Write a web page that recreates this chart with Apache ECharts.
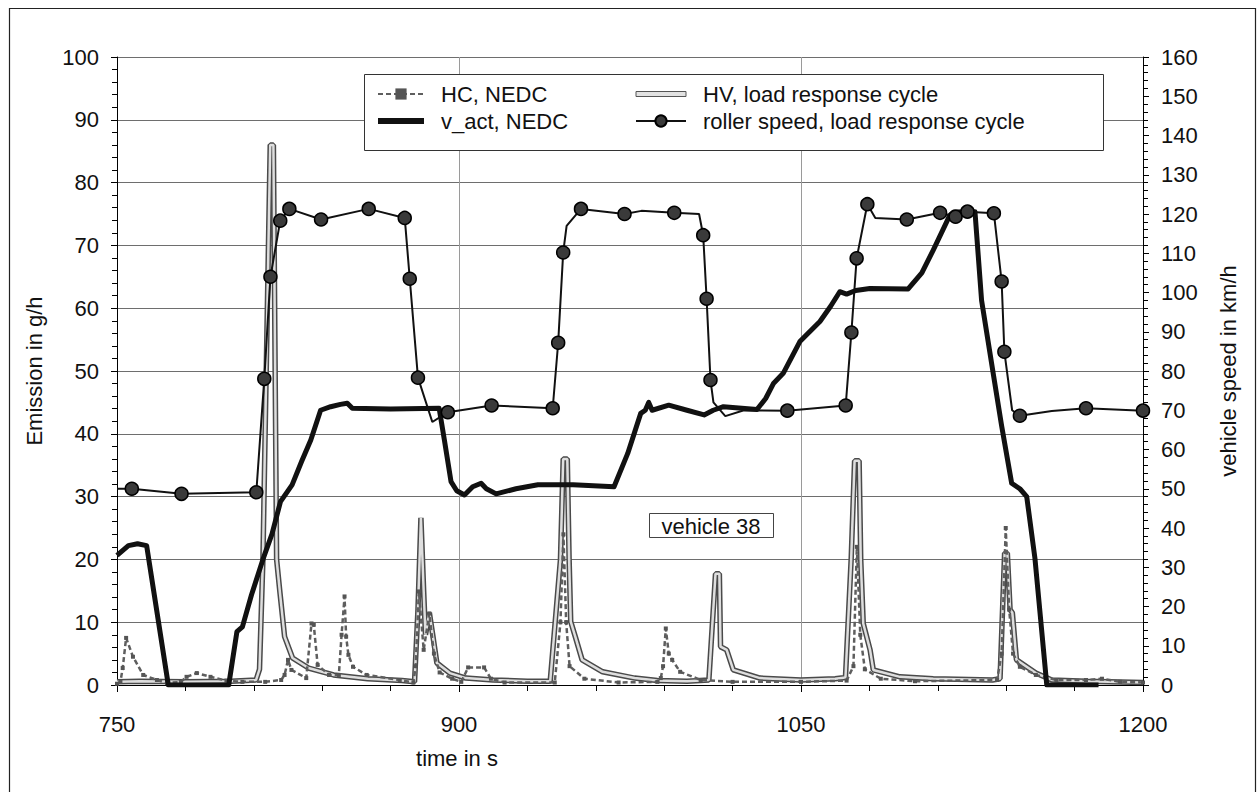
<!DOCTYPE html>
<html>
<head>
<meta charset="utf-8">
<script src="https://cdn.jsdelivr.net/npm/echarts@6/dist/echarts.min.js"></script>
<style>
html,body{margin:0;padding:0;background:#fff;}
#chart{width:1258px;height:792px;}
</style>
</head>
<body>
<div id="chart"></div>
<script>
// ---- data (time in s, value) ----
const hcNedc = [[750,0.2],[751.5,0.5],[752.5,2.7],[754,7.5],[757,4.5],[761.5,1.6],[767.5,0.8],[772,0.3],[778,0.5],[780.5,1.3],[785,1.9],[791,1.3],[798,0.7],[805,0.5],[815,0.5],[822,0.8],[823.5,1.6],[825,4],[826.5,2.4],[833,1.1],[835.3,9.8],[836.3,9.6],[838,3.2],[843,1.6],[847.3,1.6],[848.5,8],[849.8,14.1],[850.5,7.7],[851.5,4.8],[853.5,2.9],[859.5,1.6],[874,0.8],[880,0.4],[881,3],[882.4,14.9],[884.5,5.6],[887,11.4],[889,5],[891.5,2],[897,1],[901,0.5],[904,2.8],[911,2.8],[914,1],[920,0.4],[942,0.4],[944.5,10],[945.8,24],[947,10],[948.5,3],[955,1],[970,0.4],[987,0.5],[988.5,1.1],[989.5,3],[990.7,9],[992,5],[993.5,4],[997,2.1],[1006,0.8],[1020,0.5],[1050,0.5],[1070,0.7],[1073,3],[1074.5,22],[1076,8],[1078,2.5],[1085,1],[1100,0.6],[1136,0.8],[1138,5],[1139.8,25],[1141.3,12],[1143,5],[1146,2.9],[1153,1.6],[1162,0.8],[1175,0.8],[1182,1.0],[1190,0.5],[1200,0.4]];

const vActNedc = [[750,33],[755,35.5],[759,36],[763,35.5],[772.5,0],[799,0],[802.6,13.6],[805,14.8],[809,23],[814,32],[818,38.5],[821.7,46.7],[826.8,51],[831,57],[835,62.4],[839.3,70],[843.7,70.9],[848,71.5],[851,71.8],[853.2,70.5],[870,70.3],[891.3,70.5],[893.6,62.4],[896.5,51.8],[899,49.5],[902.4,48.4],[906,50.5],[909.7,51.4],[912,50],[916.3,48.7],[925,50],[934.6,51],[950,51],[968,50.5],[974,59],[979.7,69.2],[981.7,70],[983.2,72],[984.7,70],[992,71.3],[1000,70],[1007.5,68.8],[1011.5,70],[1016,70.9],[1030.7,70.2],[1034.5,73],[1038,76.9],[1042.2,79.4],[1049.5,87.5],[1058.3,92.6],[1063,96.5],[1067,100.2],[1070,99.6],[1074,100.5],[1080.2,101],[1097,100.9],[1103,105],[1108,110.8],[1115.3,119.7],[1117,120.5],[1126.3,120.6],[1129.2,98],[1134.3,79.4],[1138,66],[1142.4,51.4],[1146,50],[1149,48],[1152.6,32.3],[1157.8,0],[1180.5,0]];

const hvLoadResponse = [[750,0.5],[760,0.6],[780,0.5],[800,0.6],[811,0.8],[812.5,2.5],[814,20],[817.2,86],[818.6,86],[820,20],[821.5,14.6],[823.5,7.7],[827,4.3],[834,2.7],[845,1.6],[860,1],[875,0.7],[880.5,0.5],[882,12],[883.3,26.6],[884.5,15],[885.3,8],[887,11.5],[888.8,7.2],[890.3,3.5],[896,1.9],[903,1.1],[915,0.8],[930,0.6],[940,0.6],[944.5,20],[945.7,36],[947.5,36],[948.3,20],[949,10.1],[951,7.7],[954,4],[963,2.1],[977,1.1],[987,0.7],[1000,0.6],[1009.6,0.8],[1012.5,17.7],[1014.2,17.7],[1014.7,6.1],[1017.4,5.6],[1020.3,2.4],[1032,1.1],[1050,0.8],[1065,1],[1069.5,1.2],[1072,20],[1073.5,35.7],[1075.5,35.7],[1076.2,20],[1077.3,9.8],[1080.3,5.6],[1081.7,2.4],[1093.4,1.3],[1108,1.0],[1134,0.8],[1137.3,1],[1139.3,21],[1140.5,21],[1141.7,12],[1142.7,11.5],[1144.5,4],[1153,1.9],[1160,0.8],[1175,0.6],[1200,0.4]];

const rollerSpeed = [[750,50],[756.5,50],[778.3,48.7],[811.1,49.1],[814.6,78],[817.3,104],[821.6,118.3],[825.6,121.3],[839.5,118.6],[860.4,121.3],[876.2,119],[878.4,103.5],[882,78.3],[888.3,67],[895.1,69.5],[914.3,71.2],[941.1,70.5],[943.5,87.2],[945.7,110.2],[947.2,117],[953.5,121.3],[972.6,120],[980,120.8],[994.4,120.3],[1005.3,120],[1007.1,114.6],[1008.6,98.4],[1010.3,77.7],[1011.6,72],[1016.8,68.5],[1025,70],[1044,69.9],[1069.6,71.2],[1072.1,89.8],[1074.4,108.7],[1079.1,122.5],[1082.6,119],[1096.4,118.6],[1111,120.3],[1117.8,119.3],[1123,120.6],[1134.6,120.2],[1138,102.8],[1139.2,84.9],[1142.6,70],[1146,68.6],[1160,69.8],[1175,70.5],[1200,69.9]];
// times at which the roller-speed trace carries a marker
const rollerMarkers = [756.5,778.3,811.1,814.6,817.3,821.6,825.6,839.5,860.4,876.2,878.4,882,895.1,914.3,941.1,943.5,945.7,953.5,972.6,994.4,1007.1,1008.6,1010.3,1044,1069.6,1072.1,1074.4,1079.1,1096.4,1111,1117.8,1123,1134.6,1138,1139.2,1146,1175,1200];

const xTicks = [750, 900, 1050, 1200];

// ---- chart ----
const FONT = '"Liberation Sans", Arial, Helvetica, sans-serif';
const markerSet = new Set(rollerMarkers);
const rollerData = rollerSpeed.map(p => markerSet.has(p[0]) ? p : {value: p, symbol: 'none'});

const chart = echarts.init(document.getElementById('chart'), null, {renderer: 'svg'});
chart.setOption({
  animation: false,
  backgroundColor: '#fff',
  textStyle: {fontFamily: FONT, color: '#111'},
  grid: {left: 117, top: 57, width: 1026, height: 628, containLabel: false},
  xAxis: {
    type: 'value', min: xTicks[0], max: xTicks[xTicks.length-1], interval: xTicks[1]-xTicks[0],
    axisLine: {lineStyle: {color: '#000', width: 1}},
    axisTick: {show: true, length: 7, lineStyle: {color: '#000'}},
    minorTick: {show: true, splitNumber: 5, length: 6, lineStyle: {color: '#000'}},
    axisLabel: {fontSize: 22, color: '#111', fontFamily: FONT, margin: 28, formatter: v => String(v)},
    splitLine: {show: true, lineStyle: {color: '#9a9a9a', width: 1}}
  },
  yAxis: [
    {
      type: 'value', min: 0, max: 100, interval: 10, position: 'left',
      name: 'Emission in g/h', nameLocation: 'middle', nameRotate: 90, nameGap: 72,
      nameTextStyle: {fontSize: 22, color: '#111', fontFamily: FONT},
      axisLine: {show: true, lineStyle: {color: '#000'}},
      axisTick: {show: true, length: 6, lineStyle: {color: '#000'}},
      minorTick: {show: true, splitNumber: 5, length: 5, lineStyle: {color: '#000'}},
      axisLabel: {fontSize: 22, color: '#111', fontFamily: FONT, margin: 18},
      splitLine: {show: true, lineStyle: {color: '#6e6e6e', width: 1}}
    },
    {
      type: 'value', min: 0, max: 160, interval: 10, position: 'right',
      name: 'vehicle speed in km/h', nameLocation: 'middle', nameRotate: 90, nameGap: 74,
      nameTextStyle: {fontSize: 22, color: '#111', fontFamily: FONT},
      axisLine: {show: true, lineStyle: {color: '#000'}},
      axisTick: {show: true, length: 6, lineStyle: {color: '#000'}},
      minorTick: {show: true, splitNumber: 5, length: 5, lineStyle: {color: '#000'}},
      axisLabel: {fontSize: 22, color: '#111', fontFamily: FONT, margin: 18},
      splitLine: {show: false}
    }
  ],
  legend: [
    {
      orient: 'vertical', left: 377, top: 83, padding: 0, itemWidth: 46, itemHeight: 14, itemGap: 5,
      textStyle: {fontSize: 22, color: '#111', fontFamily: FONT, padding: [0, 0, 0, 12]},
      data: [
        'HC, NEDC',
        {name: 'v_act, NEDC', icon: 'path://M0,0 L46,0 L46,6 L0,6 Z', itemStyle: {color: '#111', borderWidth: 0}}
      ], z: 6, selectedMode: false
    },
    {
      orient: 'vertical', left: 635, top: 83, padding: 0, itemWidth: 50, itemHeight: 14, itemGap: 5,
      textStyle: {fontSize: 22, color: '#111', fontFamily: FONT, padding: [0, 0, 0, 12]},
      data: [
        {name: 'HV, load response cycle', icon: 'path://M0,0 L50,0 L50,5 L0,5 Z',
         itemStyle: {color: '#e2e2e2', borderColor: '#555', borderWidth: 1}},
        'roller speed, load response cycle'
      ], z: 6, selectedMode: false
    }
  ],
  graphic: [
    {type: 'rect', z: 0, shape: {x: 9.5, y: 8.5, width: 1246, height: 800},
     style: {fill: 'none', stroke: '#222', lineWidth: 1.2}},
    {type: 'rect', z: 5, shape: {x: 364.5, y: 74.5, width: 739, height: 76},
     style: {fill: '#fff', stroke: '#333', lineWidth: 1}},
    {type: 'rect', z: 5, shape: {x: 649.5, y: 513.5, width: 124, height: 24},
     style: {fill: '#fff', stroke: '#444', lineWidth: 1}},
    {type: 'text', z: 6, x: 711, y: 526,
     style: {text: 'vehicle 38', fontSize: 22, fontFamily: FONT, fill: '#111', align: 'center', verticalAlign: 'middle'}},
    {type: 'text', z: 6, x: 457, y: 758,
     style: {text: 'time in s', fontSize: 22, fontFamily: FONT, fill: '#111', align: 'center', verticalAlign: 'middle'}}
  ],
  series: [
    {
      name: 'HV, load response cycle', type: 'line', yAxisIndex: 0, data: hvLoadResponse,
      symbol: 'none', lineStyle: {color: '#4a4a4a', width: 5.5}, z: 2
    },
    {
      name: 'HV inner', type: 'line', yAxisIndex: 0, data: hvLoadResponse,
      symbol: 'none', lineStyle: {color: '#dedede', width: 2.5}, z: 2
    },
    {
      name: 'HC, NEDC', type: 'line', yAxisIndex: 0, data: hcNedc,
      symbol: 'rect', symbolSize: 4, showAllSymbol: true,
      itemStyle: {color: '#555'},
      lineStyle: {color: '#5e5e5e', width: 2.5, type: [5, 3]}, z: 3
    },
    {
      name: 'v_act, NEDC', type: 'line', yAxisIndex: 1, data: vActNedc,
      symbol: 'none', lineStyle: {color: '#111', width: 5, join: 'round'}, z: 4
    },
    {
      name: 'roller speed, load response cycle', type: 'line', yAxisIndex: 1, data: rollerData,
      symbol: 'circle', symbolSize: 13, showAllSymbol: true,
      itemStyle: {color: '#3a3a3a', borderColor: '#000', borderWidth: 1.5},
      lineStyle: {color: '#111', width: 2}, z: 5
    }
  ]
});
</script>
</body>
</html>
